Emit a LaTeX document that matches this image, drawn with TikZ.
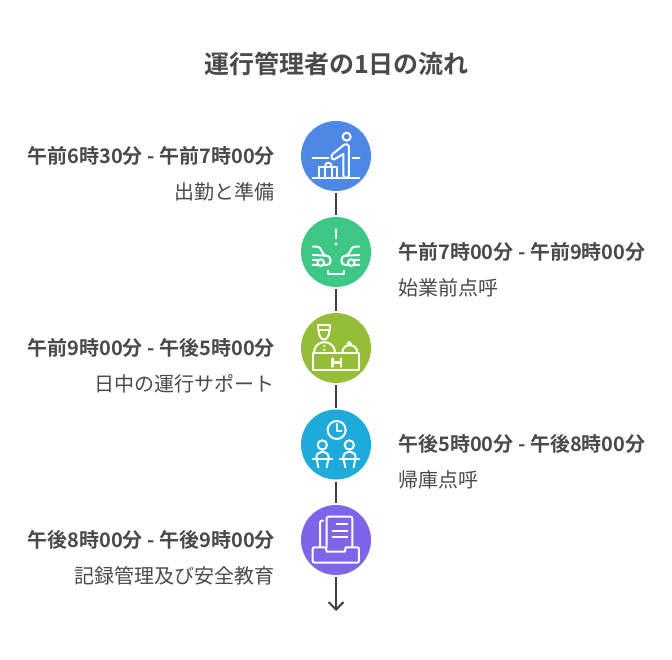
\documentclass[tikz,border=0pt]{standalone}
\usepackage{fontspec}
\setmainfont{Noto Sans CJK JP}[BoldFont={Noto Sans CJK JP Bold}]
\usetikzlibrary{arrows.meta}
\definecolor{ink}{HTML}{4A4A4A}
\definecolor{linec}{HTML}{3F3F3F}
\definecolor{cA}{HTML}{4E88E7}
\definecolor{cB}{HTML}{3EC785}
\definecolor{cC}{HTML}{95BD38}
\definecolor{cD}{HTML}{1EAADB}
\definecolor{cE}{HTML}{7F63E8}
\tikzset{
 disc/.style={circle,minimum size=70pt,inner sep=0pt,outer sep=0pt,fill=#1},
 heading/.style={font=\bfseries\fontsize{25}{30}\selectfont,text=ink,anchor=center,inner sep=0pt},
 timeL/.style={font=\bfseries\fontsize{20}{24}\selectfont,text=ink,anchor=east,inner sep=0pt},
 timeR/.style={font=\bfseries\fontsize{20}{24}\selectfont,text=ink,anchor=west,inner sep=0pt},
 infoL/.style={font=\fontsize{20}{24}\selectfont,text=ink,anchor=east,inner sep=0pt},
 infoR/.style={font=\fontsize{20}{24}\selectfont,text=ink,anchor=west,inner sep=0pt},
 link/.style={draw=linec,line width=2pt,shorten <=2pt,shorten >=2pt},
 icon/.style={draw=white,line width=2pt,line cap=round,line join=round,x=.3333pt,y=-.3333pt},
}
\begin{document}
\begin{tikzpicture}[x=1pt,y=-1pt]
\useasboundingbox[fill=white] (0,0) rectangle (672,660);
\node[heading] (title) at (336.5,64) {運行管理者の1日の流れ};
\node[disc=cA] (c1) at (336,156) {};
\node[disc=cB] (c2) at (336,252) {};
\node[disc=cC] (c3) at (336,348) {};
\node[disc=cD] (c4) at (336,444.5) {};
\node[disc=cE] (c5) at (336,540) {};
\coordinate (tipend) at (336,613);
\draw[link] (c1) -- (c2);
\draw[link] (c2) -- (c3);
\draw[link] (c3) -- (c4);
\draw[link] (c4) -- (c5);
\draw[link,-{Straight Barb[length=7.5pt,width=15pt]}] (c5) -- (tipend);
\node[timeL] (t1) at (275,156) {午前6時30分 - 午前7時00分};
\node[infoL] (d1) at (275,192) {出勤と準備};
\node[timeR] (t2) at (398,252) {午前7時00分 - 午前9時00分};
\node[infoR] (d2) at (398,288) {始業前点呼};
\node[timeL] (t3) at (275,348) {午前9時00分 - 午後5時00分};
\node[infoL] (d3) at (275,384) {日中の運行サポート};
\node[timeR] (t4) at (398,444) {午後5時00分 - 午後8時00分};
\node[infoR] (d4) at (398,480) {帰庫点呼};
\node[timeL] (t5) at (275,540) {午後8時00分 - 午後9時00分};
\node[infoL] (d5) at (275,576) {記録管理及び安全教育};
% icons 1,2
\begin{scope}[xshift=290pt,yshift=-110pt,icon]
\draw[icon] (170,80) circle (12);
\draw[icon] (127,133) -- (160,106) .. controls (168,100) and (177,103) .. (177,113) -- (177,196) .. controls (177,206) and (160,206) .. (160,196) -- (160,132) -- (133,148) .. controls (124,150) and (122,140) .. (127,133) -- cycle;
\draw[icon] (68,145) -- (115,145) (188,145) -- (208,145) (68,205) -- (208,205);
\draw[icon] (88,205) -- (88,170) -- (142,170) -- (142,205) (105,205) -- (105,170) (125,205) -- (125,170);
\draw[icon] (105,170) .. controls (105,154) and (125,154) .. (125,170);
\draw[icon] (138,358) -- (138,385);
\fill[white] (138,402) circle (5);
\draw[icon] (113,482) -- (113,493) -- (163,493) -- (163,482);
\draw[icon] (68,410) -- (82,410) .. controls (95,410) and (95,435) .. (108,437) .. controls (118,438) and (122,445) .. (122,452) .. controls (122,460) and (118,465) .. (104,465);
\draw[icon] (68,435) -- (108,437) (68,450) -- (82,450) (68,465) -- (81,465);
\draw[icon] (92,458) circle (10);
\draw[icon] (208,410) -- (194,410) .. controls (181,410) and (181,435) .. (168,437) .. controls (158,438) and (154,445) .. (154,452) .. controls (154,460) and (158,465) .. (172,465);
\draw[icon] (208,435) -- (168,437) (208,450) -- (194,450) (208,465) -- (195,465);
\draw[icon] (184,458) circle (10);
\end{scope}
% icons 3,4
\begin{scope}[xshift=290pt,yshift=-300pt,icon]
\draw[icon] (68,159) rectangle (207,211);
\draw[icon,line width=2.6pt] (128,176) -- (128,200) (153,176) -- (153,200) (128,188) -- (153,188);
\draw[icon] (83,76) -- (120,76) -- (120,90) -- (83,90) -- cycle;
\draw[icon] (86,90) .. controls (86,128) and (118,128) .. (118,90);
\draw[icon] (72,158) .. controls (72,116) and (135,116) .. (135,158);
\fill[white] (103,138) circle (3.5) (103,150) circle (3.5);
\draw[icon] (157,158) .. controls (157,128) and (202,128) .. (202,158);
\draw[icon] (178,131) circle (5);
\draw[icon] (140,390) circle (27);
\draw[icon] (140,372) -- (140,392) -- (155,392);
\draw[icon] (97,435) circle (14);
\draw[icon] (178,435) circle (14);
\draw[icon] (79,473) .. controls (79,449) and (116,449) .. (116,473);
\draw[icon] (160,473) .. controls (160,449) and (197,449) .. (197,473);
\draw[icon,line width=2.8pt] (69,477) -- (126,477);
\draw[icon,line width=2.8pt] (150,477) -- (207,477);
\draw[icon] (80,477) -- (85,502) (115,477) -- (110,502);
\draw[icon] (161,477) -- (166,502) (196,477) -- (191,502);
\end{scope}
% icon 5
\begin{scope}[xshift=290pt,yshift=-490pt,icon]
\draw[icon] (110,172) -- (110,86) .. controls (110,82) and (112,80) .. (116,80) -- (181,80) .. controls (185,80) and (187,82) .. (187,86) -- (187,172);
\draw[icon] (100,92) -- (94,92) .. controls (91,92) and (90,94) .. (90,97) -- (90,170);
\draw[icon] (140,103) -- (172,103) (128,122) -- (172,122) (128,140) -- (172,140);
\draw[icon] (68,178) .. controls (68,174) and (70,172) .. (74,172) -- (108,172) -- (110,185) -- (165,185) -- (167,172) -- (201,172) .. controls (205,172) and (207,174) .. (207,178) -- (207,212) .. controls (207,216) and (205,218) .. (201,218) -- (74,218) .. controls (70,218) and (68,216) .. (68,212) -- cycle;
\end{scope}
\end{tikzpicture}
\end{document}
